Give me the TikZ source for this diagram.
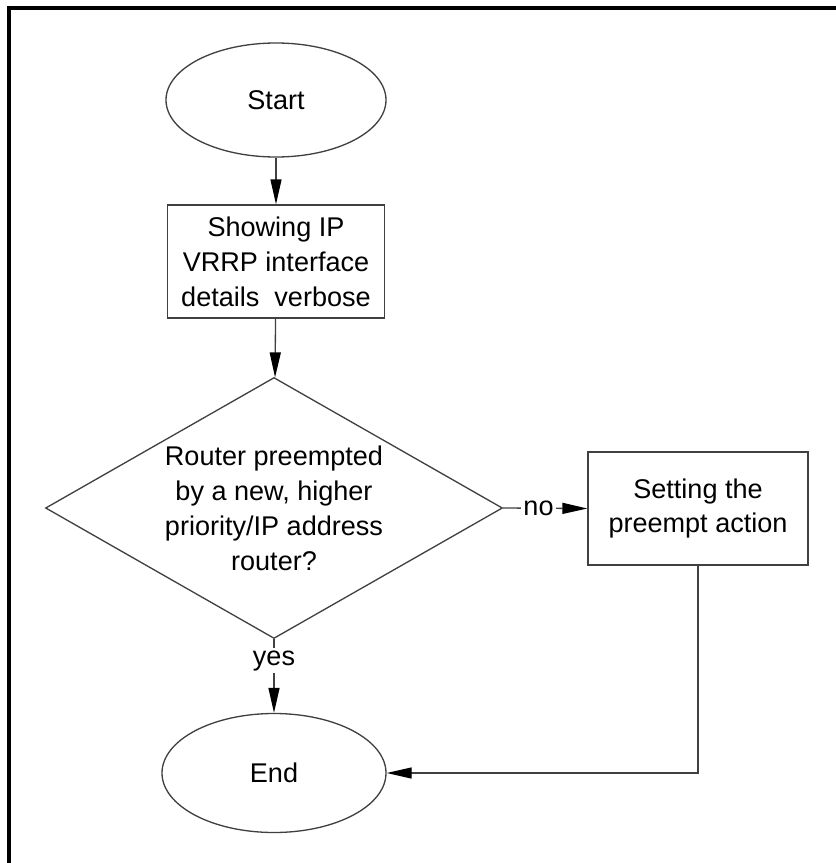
\documentclass[tikz,border=0pt]{standalone}
\usepackage{fontspec}
\setmainfont{Liberation Sans}
\usetikzlibrary{shapes.geometric,arrows.meta}
\tikzset{
  flow/.style={draw=black!75, line width=0.75pt},
  terminal/.style={flow, ellipse, minimum width=4.4cm, minimum height=2.28cm},
  process/.style={flow, rectangle, align=center, minimum width=4.34cm, minimum height=2.26cm},
  decision/.style={flow, diamond, align=center, inner sep=0pt, shape aspect=1.75,
    minimum width=9.14cm, minimum height=5.22cm},
  link/.style={draw=black!75, line width=0.75pt,
    -{Triangle[length=0.5cm,width=0.22cm,fill=black,color=black]}},
  tag/.style={fill=white, inner sep=1.5pt}
}
\begin{document}
\begin{tikzpicture}[font=\fontsize{15.4}{19.9}\selectfont]
\useasboundingbox (0,0) rectangle (16.72,-17.26);
\draw[line width=2.3pt] (0.18,-17.4) -- (0.18,-0.16) -- (16.9,-0.16);
% main column
\node[terminal] (start) at (5.52,-2.00) {Start};
\node[process] (show) at (5.52,-5.23) {Showing IP\\VRRP interface\\details~ verbose};
\node[decision] (preempt) at (5.48,-10.16) {Router preempted\\by a new, higher\\priority/IP address\\router?};
\node[process, minimum width=4.4cm] (setact) at (13.96,-10.17) {Setting the\\preempt action};
\node[terminal, minimum width=4.48cm, minimum height=2.38cm] (end) at (5.48,-15.46) {End};
% connectors
\draw[link] (start) -- (show);
\draw[link] (show) -- (preempt);
\draw[link] (preempt.east) -- node[tag, pos=0.42] {no} (setact.west);
\draw[link] (preempt.south) -- node[tag, pos=0.29] {yes} (end.north);
\draw[link] (setact.south) |- (end.east);
\end{tikzpicture}
\end{document}
